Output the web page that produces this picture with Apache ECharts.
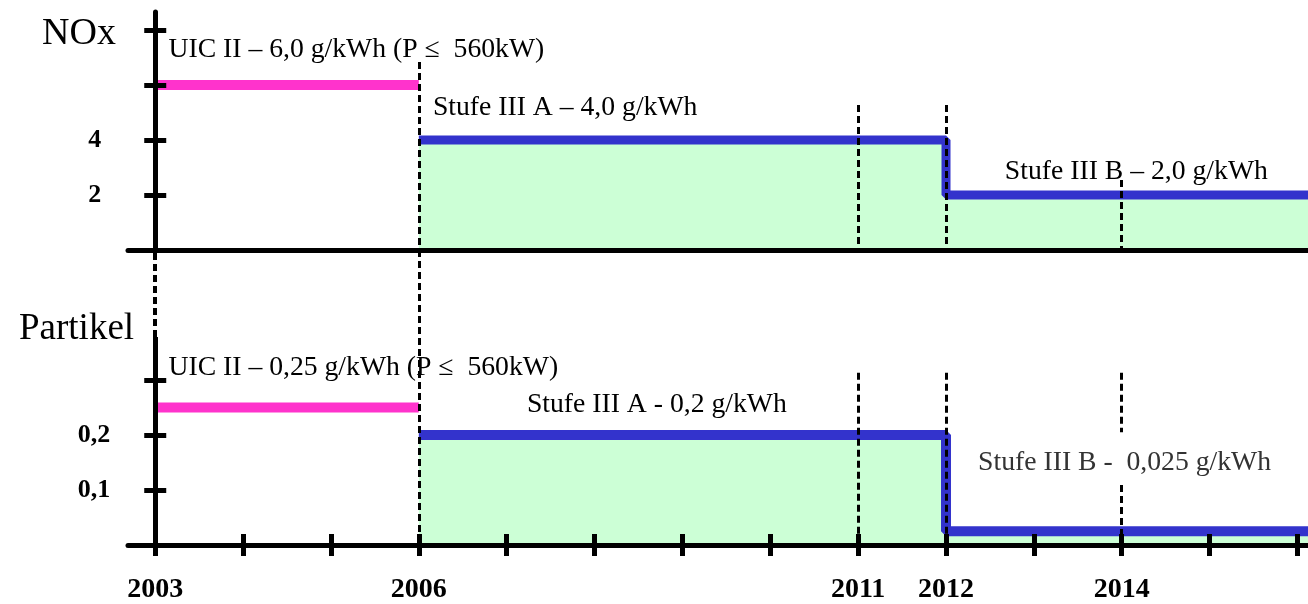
<!DOCTYPE html>
<html>
<head>
<meta charset="utf-8">
<script src="https://cdn.jsdelivr.net/npm/echarts@6/dist/echarts.min.js"></script>
<style>
html,body{margin:0;padding:0;background:#fff;}
#chart{width:1308px;height:604px;}
</style>
</head>
<body>
<div id="chart"></div>
<script>
// ---------------- data ----------------
const xTickYears = [2003, 2004, 2005, 2006, 2007, 2008, 2009, 2010, 2011, 2012, 2013, 2014, 2015, 2016];
const xLabelYears = [2003, 2006, 2011, 2012, 2014];
const markerYears = [2006, 2011, 2012, 2014];

const noxTicks = [2, 4, 6, 8];
const noxTickLabels = [2, 4];
const pmTicks = [0.1, 0.2, 0.3];
const pmTickLabels = [0.1, 0.2];

const uicYears = [2003, 2006];
const noxUicValue = 6.0;
const pmUicValue = 0.25;

const stageYears = [2006, 2012];
const noxStageValues = [4.0, 2.0];
const pmStageValues = [0.2, 0.025];

const noxTexts = ['UIC II – 6,0 g/kWh (P ≤  560kW)', 'Stufe III A – 4,0 g/kWh', 'Stufe III B – 2,0 g/kWh'];
const pmTexts = ['UIC II – 0,25 g/kWh (P ≤  560kW)', 'Stufe III A - 0,2 g/kWh', 'Stufe III B -  0,025 g/kWh'];

// ---------------- layout ----------------
const X_MIN = 2002.69, X_MAX = 2016.12;
const NOX_MAX = 8.65, PM_MAX = 0.5364;
const GRID_LEFT = 128, W = 1308;
const pxPerYear = (W - GRID_LEFT) / (X_MAX - X_MIN);
const Y_OFFSET = -(xTickYears[0] - X_MIN) * pxPerYear;

const SERIF = '"Liberation Serif", "Times New Roman", serif';
const PINK = '#FF33CC', BLUE = '#3333CC', GREEN = '#CCFFD6';

// annotation anchor positions (data coords)
const noxTextPos = [[2003.15, 7.27], [2006.16, 5.16], [2012.67, 2.84]];
const pmTextPos = [[2003.15, 0.322], [2007.23, 0.2545], [2012.365, 0.149]];
const textColors = ['#000', '#000', '#000'];
const pmTextColors = ['#000', '#000', '#333'];
// dashed marker extents
const noxDashTop = [6.83, 5.27, 5.27, 2.54];
const pmDashSegs = [[[PM_MAX, 0]], [[0.313, 0]], [[0.313, 0]], [[0.313, 0.205], [0.109, 0]]];

const comma = v => String(v).replace('.', ',');
const AXIS_Z = 4;

function yAxes(grid, max, ticks, labels, margin) {
  return [
    {
      type: 'value', gridIndex: grid, min: 0, max: max, position: 'left', offset: Y_OFFSET, z: AXIS_Z,
      axisLine: { show: grid === 0, onZero: false, lineStyle: { color: '#000', width: 5 } },
      axisTick: { show: true, inside: false, length: 11, customValues: ticks, lineStyle: { color: '#000', width: 5 } },
      axisLabel: { show: true, customValues: labels, margin: margin, formatter: comma,
        fontFamily: SERIF, fontWeight: 'bold', fontSize: 26, color: '#000' },
      splitLine: { show: false }
    },
    {
      type: 'value', gridIndex: grid, min: 0, max: max, position: 'left', offset: Y_OFFSET, z: AXIS_Z,
      axisLine: { show: false, onZero: false },
      axisTick: { show: true, inside: true, length: 11, customValues: ticks, lineStyle: { color: '#000', width: 5 } },
      axisLabel: { show: false },
      splitLine: { show: false }
    }
  ];
}

const dashStyle = { color: '#000', width: 3, type: [7, 4] };

function textSeries(x, y, texts, pos, colors) {
  return {
    type: 'scatter', xAxisIndex: x, yAxisIndex: y, symbolSize: 0, silent: true, z: 10,
    itemStyle: { opacity: 1 },
    data: texts.map((t, i) => ({ value: pos[i], name: t, label: { color: colors[i] } })),
    label: { show: true, position: 'right', distance: 0, formatter: p => p.name, opacity: 1,
      fontFamily: SERIF, fontSize: 27.7, color: '#000' }
  };
}

const noxDashData = markerYears.map((yr, i) => [{ coord: [yr, noxDashTop[i]] }, { coord: [yr, 0] }]);
const pmDashData = [];
markerYears.forEach((yr, i) => pmDashSegs[i].forEach(s => pmDashData.push([{ coord: [yr, s[0]] }, { coord: [yr, s[1]] }])));

const option = {
  animation: false,
  backgroundColor: '#fff',
  title: [
    { text: 'NOx', left: 37, top: 10, textStyle: { fontFamily: SERIF, fontSize: 38, fontWeight: 'normal', color: '#000' } },
    { text: 'Partikel', left: 14, top: 306, textStyle: { fontFamily: SERIF, fontSize: 37, fontWeight: 'normal', color: '#000' } }
  ],
  grid: [
    { left: GRID_LEFT, right: 0, top: 12, height: 238 },
    { left: GRID_LEFT, right: 0, top: 250, height: 295 }
  ],
  xAxis: [
    { type: 'value', gridIndex: 0, min: X_MIN, max: X_MAX, position: 'bottom', z: AXIS_Z,
      axisLine: { show: true, onZero: false, lineStyle: { color: '#000', width: 5 } },
      axisTick: { show: false }, axisLabel: { show: false }, splitLine: { show: false } },
    { type: 'value', gridIndex: 1, min: X_MIN, max: X_MAX, position: 'bottom', z: AXIS_Z,
      axisLine: { show: true, onZero: false, lineStyle: { color: '#000', width: 5 } },
      axisTick: { show: true, inside: false, length: 11, customValues: xTickYears, lineStyle: { color: '#000', width: 5 } },
      axisLabel: { show: true, customValues: xLabelYears, margin: 31, formatter: v => String(v),
        fontFamily: SERIF, fontWeight: 'bold', fontSize: 28, color: '#000' },
      splitLine: { show: false } },
    { type: 'value', gridIndex: 1, min: X_MIN, max: X_MAX, position: 'bottom', z: AXIS_Z,
      axisLine: { show: false, onZero: false },
      axisTick: { show: true, inside: true, length: 11, customValues: xTickYears, lineStyle: { color: '#000', width: 5 } },
      axisLabel: { show: false }, splitLine: { show: false } }
  ],
  yAxis: [].concat(
    yAxes(0, NOX_MAX, noxTicks, noxTickLabels, 54),
    yAxes(1, PM_MAX, pmTicks, pmTickLabels, 45)
  ),
  series: [
    // NOx
    { type: 'line', xAxisIndex: 0, yAxisIndex: 0, symbol: 'none', silent: true,
      data: uicYears.map(y => [y, noxUicValue]),
      lineStyle: { color: PINK, width: 10, cap: 'butt' } },
    { type: 'line', xAxisIndex: 0, yAxisIndex: 0, symbol: 'none', silent: true, step: 'end',
      data: stageYears.map((y, i) => [y, noxStageValues[i]]).concat([[X_MAX, noxStageValues[noxStageValues.length - 1]]]),
      lineStyle: { color: BLUE, width: 9 },
      areaStyle: { color: GREEN, opacity: 1 } },
    { type: 'line', xAxisIndex: 0, yAxisIndex: 0, symbol: 'none', silent: true, z: 5, data: [],
      markLine: { silent: true, symbol: ['none', 'none'], label: { show: false }, lineStyle: dashStyle, data: noxDashData } },
    // Partikel
    { type: 'line', xAxisIndex: 1, yAxisIndex: 2, symbol: 'none', silent: true,
      data: uicYears.map(y => [y, pmUicValue]),
      lineStyle: { color: PINK, width: 10, cap: 'butt' } },
    { type: 'line', xAxisIndex: 1, yAxisIndex: 2, symbol: 'none', silent: true, step: 'end',
      data: stageYears.map((y, i) => [y, pmStageValues[i]]).concat([[X_MAX, pmStageValues[pmStageValues.length - 1]]]),
      lineStyle: { color: BLUE, width: 10 },
      areaStyle: { color: GREEN, opacity: 1 } },
    { type: 'line', xAxisIndex: 1, yAxisIndex: 2, symbol: 'none', silent: true, z: 5, data: [],
      markLine: { silent: true, symbol: ['none', 'none'], label: { show: false }, lineStyle: dashStyle, data: pmDashData } },
    // left axis of the lower panel: solid part and dashed connector
    { type: 'line', xAxisIndex: 1, yAxisIndex: 2, symbol: 'none', silent: true, z: 6, data: [],
      markLine: { silent: true, symbol: ['none', 'none'], label: { show: false },
        data: [
          [{ coord: [xTickYears[0], 0], lineStyle: { color: '#000', width: 5, type: 'solid' } }, { coord: [xTickYears[0], 0.378] }],
          [{ coord: [xTickYears[0], 0.378], lineStyle: { color: '#000', width: 4, type: [7, 4] } }, { coord: [xTickYears[0], PM_MAX] }]
        ] } },
    textSeries(0, 0, noxTexts, noxTextPos, textColors),
    textSeries(1, 2, pmTexts, pmTextPos, pmTextColors)
  ]
};

const chart = echarts.init(document.getElementById('chart'), null, { renderer: 'canvas' });
chart.setOption(option);
</script>
</body>
</html>
